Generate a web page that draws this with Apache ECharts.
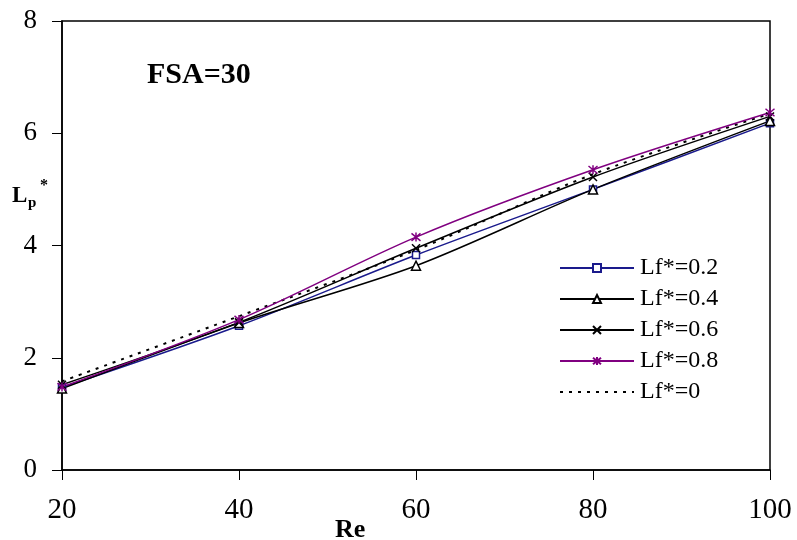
<!DOCTYPE html>
<html><head><meta charset="utf-8">
<script src="https://cdn.jsdelivr.net/npm/echarts@6/dist/echarts.min.js"></script>
<style>html,body{margin:0;padding:0;background:#fff}#c{width:797px;height:540px}</style>
</head><body><div id="c"></div>
<script>
const re = [20, 40, 60, 80, 100];
const lf02 = [1.47, 2.57, 3.83, 5.00, 6.18];
const lf04 = [1.45, 2.62, 3.64, 5.00, 6.22];
const lf06 = [1.52, 2.63, 3.95, 5.22, 6.30];
const lf08 = [1.48, 2.68, 4.15, 5.35, 6.37];
const lf0  = [1.58, 2.74, 3.92, 5.27, 6.35];
const names = ['Lf*=0.2', 'Lf*=0.4', 'Lf*=0.6', 'Lf*=0.8', 'Lf*=0'];

const FONT = '"Liberation Serif", "Times New Roman", serif';
const pts = a => re.map((x, i) => [x, a[i]]);
const xPath = 'path://M0,0 L10,10 M10,0 L0,10';
const starPath = 'path://M0,0 L10,10 M10,0 L0,10 M5,-1 L5,11';

function mk(name, data, color, symbol, size) {
  return {
    name, type: 'line', data: pts(data), smooth: 0.3,
    symbol, symbolSize: size, showSymbol: true,
    lineStyle: { color, width: 1.5 },
    itemStyle: { color: '#fff', borderColor: color, borderWidth: 1.5 },
    emphasis: { disabled: true }, z: 3
  };
}

const chart = echarts.init(document.getElementById('c'), null, { renderer: 'canvas' });
chart.setOption({
  animation: false,
  backgroundColor: '#fff',
  grid: { left: 62, right: 27, top: 21, bottom: 70, show: true, borderColor: '#000', borderWidth: 1.5 },
  xAxis: {
    type: 'value', min: 20, max: 100, interval: 20,
    axisLine: { show: true, lineStyle: { color: '#000', width: 1.5 } },
    axisTick: { show: true, inside: false, length: 10, lineStyle: { color: '#000' } },
    axisLabel: { color: '#000', fontFamily: FONT, fontSize: 29, margin: 26 },
    splitLine: { show: false }
  },
  yAxis: {
    type: 'value', min: 0, max: 8, interval: 2,
    axisLine: { show: true, lineStyle: { color: '#000', width: 1.5 } },
    axisTick: { show: true, inside: false, length: 10, lineStyle: { color: '#000' } },
    axisLabel: { color: '#000', fontFamily: FONT, fontSize: 27, margin: 25 },
    splitLine: { show: false }
  },
  legend: {
    orient: 'vertical', left: 554, top: 251, itemWidth: 74, itemHeight: 10, itemGap: 7,
    textStyle: { fontFamily: FONT, fontSize: 24, color: '#000', padding: [0, 0, 0, 1] },
    data: names.slice(0, 4).concat([{ name: names[4], itemStyle: { opacity: 0 } }])
  },
  series: [
    mk(names[0], lf02, '#1a1a8c', 'rect', 7),
    mk(names[1], lf04, '#000', 'triangle', 9),
    mk(names[2], lf06, '#000', xPath, 8),
    mk(names[3], lf08, '#800080', starPath, 9),
    {
      name: names[4], type: 'line', data: pts(lf0), smooth: 0.3,
      symbol: 'none', showSymbol: false,
      lineStyle: { color: '#000', width: 2, type: [3, 6] },
      itemStyle: { color: '#000' }, emphasis: { disabled: true }, z: 2
    }
  ],
  graphic: [
    { type: 'text', left: 147, top: 60, style: { text: 'FSA=30', font: 'bold 30px ' + FONT, fill: '#000' } },
    { type: 'text', left: 12, top: 185, style: { text: 'L', font: 'bold 23px ' + FONT, fill: '#000' } },
    { type: 'text', left: 28, top: 196, style: { text: 'p', font: 'bold 15px ' + FONT, fill: '#000' } },
    { type: 'text', left: 40, top: 178, style: { text: '*', font: 'bold 16px ' + FONT, fill: '#000' } },
    { type: 'text', left: 335, top: 517, style: { text: 'Re', font: 'bold 26px ' + FONT, fill: '#000' } }
  ]
});
</script></body></html>
